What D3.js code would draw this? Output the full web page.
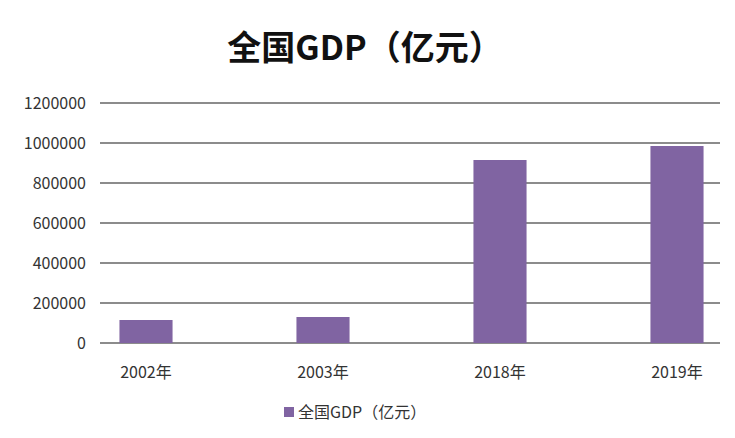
<!DOCTYPE html><html><head><meta charset="utf-8"><script src="https://cdn.jsdelivr.net/npm/d3@7"></script>
<style>body{margin:0;background:#fff}text{font-family:"Noto Sans CJK SC","Noto Sans",sans-serif}</style></head><body>
<svg id="c" width="735" height="438"></svg>
<script>
const categories=["2002年","2003年","2018年","2019年"];
const values=[115000,130000,915000,985000];
const ticks=[0,200000,400000,600000,800000,1000000,1200000];
const seriesName="全国GDP（亿元）";
const titleText="全国GDP（亿元）";
const svg=d3.select("#c");
const x=d3.scaleBand().domain(categories).range([57.5,765.5]).paddingInner(0.7).paddingOuter(0.35);
const y=d3.scaleLinear().domain([0,1200000]).range([343,103]);
svg.append("g").selectAll("line").data(ticks).join("line")
 .attr("x1",100).attr("x2",720).attr("y1",d=>y(d)).attr("y2",d=>y(d))
 .attr("stroke","#8c8c8c").attr("stroke-width",2);
svg.append("g").selectAll("text").data(ticks).join("text")
 .attr("x",86).attr("y",d=>y(d)+6).attr("text-anchor","end").attr("font-size",16).attr("fill","#333").text(d=>d);
svg.append("g").selectAll("rect").data(values).join("rect")
 .attr("x",(d,i)=>x(categories[i])).attr("width",x.bandwidth())
 .attr("y",d=>y(d)).attr("height",d=>y(0)-y(d)).attr("fill","#8064A2");
svg.append("g").selectAll("text").data(categories).join("text")
 .attr("x",d=>x(d)+x.bandwidth()/2).attr("y",378).attr("text-anchor","middle").attr("font-size",16).attr("fill","#333").text(d=>d);
svg.append("text").attr("x",365).attr("y",60).attr("text-anchor","middle").attr("font-size",34).attr("font-weight","bold").attr("fill","#111").text(titleText);
svg.append("rect").attr("x",284).attr("y",407).attr("width",10).attr("height",10).attr("fill","#8064A2");
svg.append("text").attr("x",298).attr("y",418).attr("font-size",16).attr("fill","#333").text(seriesName);
</script></body></html>
